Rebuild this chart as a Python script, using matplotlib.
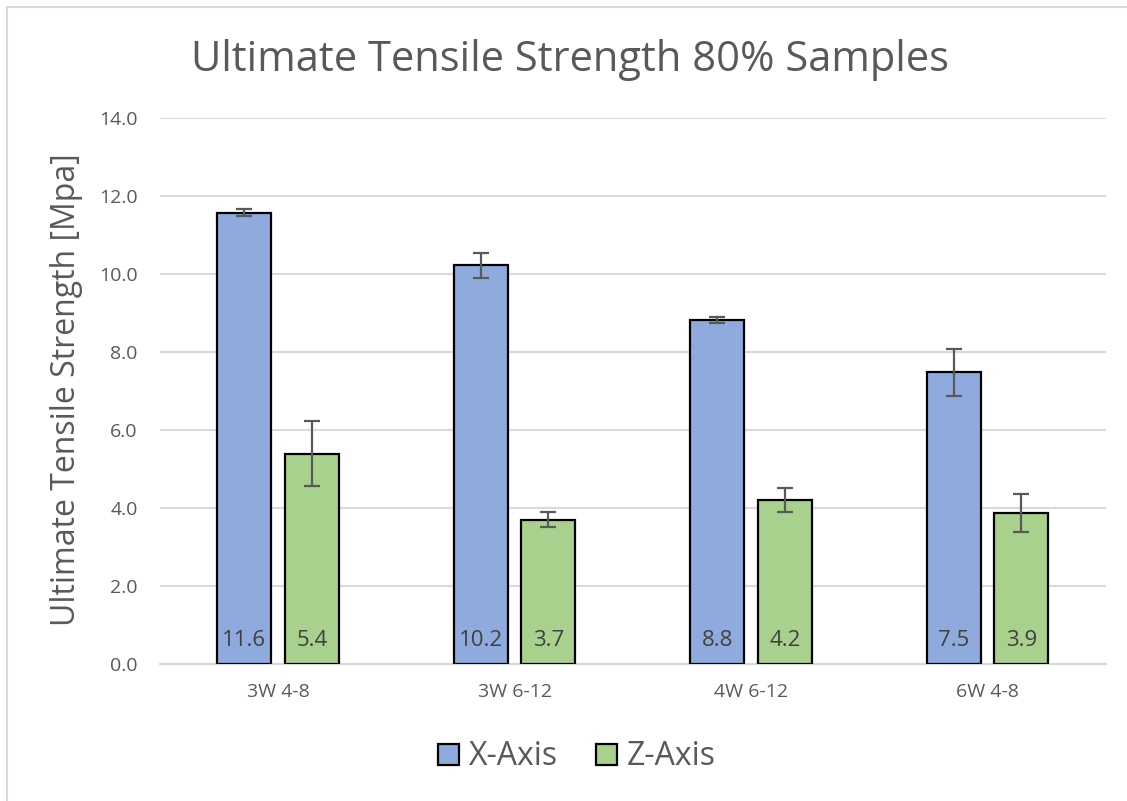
import matplotlib
matplotlib.use("Agg")
import matplotlib.pyplot as plt
import numpy as np

plt.rcParams['font.family'] = ['Open Sans', 'DejaVu Sans']

# data
categories = ["3W 4-8", "3W 6-12", "4W 6-12", "6W 4-8"]
x_axis = [11.57, 10.22, 8.82, 7.48]
x_err = [0.10, 0.32, 0.08, 0.60]
z_axis = [5.39, 3.70, 4.20, 3.88]
z_err = [0.84, 0.19, 0.30, 0.49]
yticks = [0, 2, 4, 6, 8, 10, 12, 14]

grey = "#595959"
fig = plt.figure(figsize=(11.27, 8.01), dpi=100)
ax = fig.add_axes([0.142, 0.171, 0.839, 0.682])

pos = np.arange(len(categories))
w = 0.228
off = 0.143

bx = ax.bar(pos - off, x_axis, w, color="#8FAADC", edgecolor="black", linewidth=1.6,
            label="X-Axis", zorder=3)
bz = ax.bar(pos + off, z_axis, w, color="#A9D18E", edgecolor="black", linewidth=1.6,
            label="Z-Axis", zorder=3)
ax.errorbar(pos - off, x_axis, yerr=x_err, fmt="none", ecolor=grey, elinewidth=1.6,
            capsize=6, capthick=1.6, zorder=4)
ax.errorbar(pos + off, z_axis, yerr=z_err, fmt="none", ecolor=grey, elinewidth=1.6,
            capsize=6, capthick=1.6, zorder=4)

# value labels at bar base
for p, v in zip(pos - off, x_axis):
    ax.annotate("%.1f" % v, (p, 0), xytext=(0, 17), textcoords="offset points",
                ha="center", va="center", fontsize=16, color="#404040", zorder=5)
for p, v in zip(pos + off, z_axis):
    ax.annotate("%.1f" % v, (p, 0), xytext=(0, 17), textcoords="offset points",
                ha="center", va="center", fontsize=16, color="#404040", zorder=5)

ax.set_xlim(-0.5, len(categories) - 0.5)
ax.set_ylim(0, 14)
ax.set_yticks(yticks)
ax.set_yticklabels(["%.1f" % t for t in yticks])
ax.set_xticks(pos)
ax.set_xticklabels(categories)
ax.tick_params(axis="both", length=0, labelsize=14, colors=grey)
ax.tick_params(axis="y", pad=16)
ax.tick_params(axis="x", pad=14)
ax.grid(axis="y", color="#D9D9D9", linewidth=1.5, zorder=0)
for s in ["top", "right", "left"]:
    ax.spines[s].set_visible(False)
ax.spines["bottom"].set_color("#D9D9D9")
ax.spines["bottom"].set_linewidth(1.5)

fig.text(0.506, 0.925, "Ultimate Tensile Strength 80% Samples", ha="center", va="center",
         fontsize=30, color=grey)
fig.text(0.059, 0.513, "Ultimate Tensile Strength [Mpa]", ha="center", va="center",
         rotation=90, fontsize=23, color=grey)

leg = fig.legend(handles=[bx, bz], loc="center", bbox_to_anchor=(0.512, 0.055), ncol=2,
                 frameon=False, fontsize=23, handlelength=0.65, handleheight=0.65,
                 handletextpad=0.3, columnspacing=1.2)
for t in leg.get_texts():
    t.set_color(grey)

# chart border (top and left visible in reference)
fig.add_artist(plt.Line2D([0.0062, 0.0062], [0, 0.991], color="#D9D9D9", lw=1.5))
fig.add_artist(plt.Line2D([0.0062, 1], [0.991, 0.991], color="#D9D9D9", lw=1.5))

fig.savefig("out.png", dpi=100)
